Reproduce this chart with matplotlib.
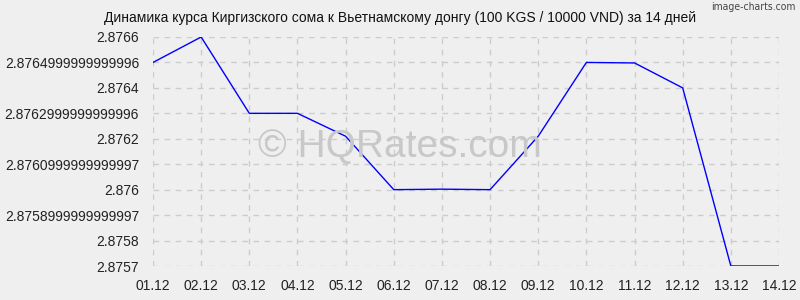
import matplotlib
matplotlib.use("Agg")
import matplotlib.pyplot as plt

dates = ["01.12", "02.12", "03.12", "04.12", "05.12", "06.12", "07.12",
         "08.12", "09.12", "10.12", "11.12", "12.12", "13.12", "14.12"]
rates = [2.87650, 2.87660, 2.87630, 2.87630, 2.87621, 2.87600, 2.876002,
         2.87600, 2.87621, 2.87650, 2.876498, 2.87640, 2.87570, 2.87570]
ytick_values = [2.8757, 2.8758, 2.8759, 2.8760, 2.8761, 2.8762, 2.8763,
                2.8764, 2.8765, 2.8766]
ytick_labels = ["2.8757", "2.8758", "2.8758999999999997", "2.876",
                "2.8760999999999997", "2.8762", "2.8762999999999996",
                "2.8764", "2.8764999999999996", "2.8766"]
title = "Динамика курса Киргизского сома к Вьетнамскому донгу (100 KGS / 10000 VND) за 14 дней"

plt.rcParams['font.family'] = ['Liberation Sans', 'DejaVu Sans']
bg = "#efefef"
fig = plt.figure(figsize=(8, 3), dpi=100, facecolor=bg)
ax = fig.add_axes([153/800, 1-266/300, (779-153)/800, (266-37)/300])
ax.set_facecolor(bg)

x = list(range(len(dates)))
ax.plot(x, rates, color="#0000ff", linewidth=1.0, zorder=3)

ax.set_xlim(0, len(dates)-1)
ax.set_ylim(ytick_values[0], ytick_values[-1])
ax.set_xticks(x)
ax.set_xticklabels(dates, fontsize=10, color="#222222")
ax.set_yticks(ytick_values)
ax.set_yticklabels(ytick_labels, fontsize=10, color="#222222")
ax.tick_params(axis="y", length=0, pad=10)
ax.tick_params(axis="x", length=0, pad=9)
ax.grid(True, color="#cccccc", linestyle=(0, (4, 4)), linewidth=1)
for s in ax.spines.values():
    s.set_visible(False)

fig.text(400/800, 1-147/300, "© HQRates.com", fontsize=28, color="#c8c8c8",
         ha="center", va="center", zorder=1)
fig.text(0.5, 1-18/300, title, fontsize=10, ha="center", va="center", color="#111111")
fig.text(796/800, 1-7/300, "image-charts.com", fontsize=7.5, ha="right", va="center",
         color="#444444", family=["DejaVu Sans"], stretch="condensed")

fig.savefig("out.png", dpi=100, facecolor=bg)
